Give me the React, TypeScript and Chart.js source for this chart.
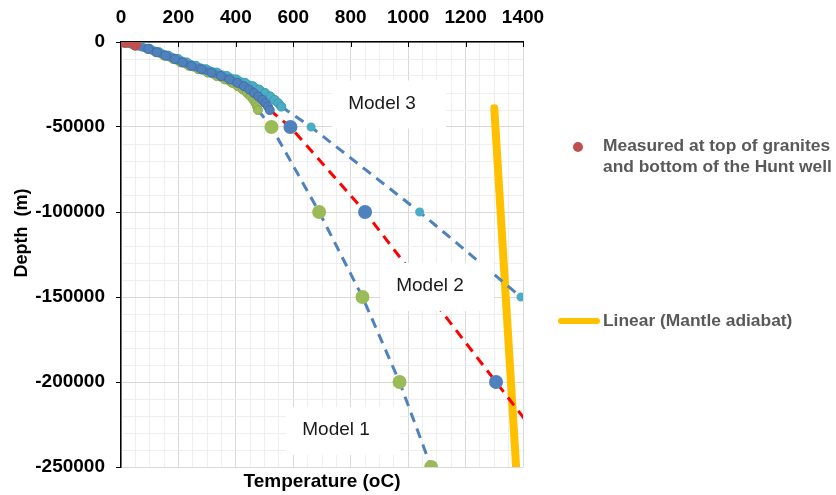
import React, { useEffect, useRef } from 'react';
import { Chart, registerables } from 'chart.js';

Chart.register(...registerables);

// ---------- data ----------
const xTickLabels = [0, 200, 400, 600, 800, 1000, 1200, 1400];
const yTickLabels = [0, -50000, -100000, -150000, -200000, -250000];

// shallow geotherm curves (depth m, temperature oC)
const curveDepths = [0, -2000, -4000, -6000, -8000, -10000, -12000, -14000, -16000, -18000, -20000,
  -22000, -24000, -26000, -28000, -30000, -32000, -34000, -36000, -38000, -40000];
const model1Temps = [0, 48, 92, 121, 150, 181, 207, 236, 269, 302, 333, 361, 386, 407, 424, 439, 451, 461, 469, 474, 477];
const model2Temps = [0, 50, 95, 125, 155, 188, 215, 245, 280, 315, 348, 378, 405, 428, 447, 463, 478, 492, 503, 512, 518];
const model3Depths = [0, -2000, -4000, -6000, -8000, -10000, -12000, -14000, -16000, -18000, -20000,
  -22000, -24000, -26000, -28000, -30000, -32000, -34000, -36000, -38000];
const model3Temps = [0, 54, 100, 133, 165, 199, 229, 261, 297, 334, 369, 402, 432, 459, 482, 502, 520, 535, 548, 558];

// deep extrapolations
const model1TrendT = [477, 524, 690, 841, 970, 1080];
const model1TrendZ = [-40000, -50000, -100000, -150000, -200000, -250000];
const model2TrendT = [518, 590, 850, 1078, 1306, 1500];
const model2TrendZ = [-40000, -50000, -100000, -150000, -200000, -242500];
const model3TrendT = [558, 662, 1040, 1393, 1750];
const model3TrendZ = [-38000, -50000, -100000, -150000, -200000];

// measured points
const measuredT = [14, 49];
const measuredZ = [0, -1500];

// mantle adiabat
const adiabatT = [1300, 1376];
const adiabatZ = [-39000, -250000];

// model labels (anchored in data units)
const modelLabelText = ['Model 1', 'Model 2', 'Model 3'];
const modelLabelT = [749, 1076, 909];
const modelLabelZ = [-227600, -142900, -35600];

const legendMeasured = ['Measured at top of granites', 'and bottom of the Hunt well'];
const legendAdiabat = 'Linear (Mantle adiabat)';
const xTitle = 'Temperature (oC)';
const yTitle = 'Depth  (m)';

// ---------- helpers ----------
const FONT = '"Liberation Sans", Arial, sans-serif';
const pts = (xs: number[], ys: number[]) => xs.map((x, i) => ({ x, y: ys[i] }));

const BLUE = '#4f81bd';
const CYAN = '#4bacc6';
const GREEN = '#9bbb59';
const RED = '#ff0000';
const MEAS = '#c0504d';
const ORANGE = '#ffc000';

const decorPlugin = {
  id: 'decor',
  beforeDatasetsDraw(chart: any) {
    const { ctx, chartArea, scales } = chart;
    ctx.save();
    ctx.strokeStyle = '#000';
    ctx.lineWidth = 1;
    xTickLabels.forEach((v) => {
      const px = Math.round(scales.x.getPixelForValue(v)) + 0.5;
      ctx.beginPath();
      ctx.moveTo(px, chartArea.top);
      ctx.lineTo(px, chartArea.top + 5);
      ctx.stroke();
    });
    ctx.restore();
  },
  afterDatasetsDraw(chart: any) {
    const { ctx, scales } = chart;
    ctx.save();
    ctx.font = `19px ${FONT}`;
    ctx.textBaseline = 'middle';
    ctx.textAlign = 'center';
    modelLabelText.forEach((t, i) => {
      const px = scales.x.getPixelForValue(modelLabelT[i]);
      const py = scales.y.getPixelForValue(modelLabelZ[i]);
      const w = ctx.measureText(t).width;
      ctx.fillStyle = '#ffffff';
      ctx.fillRect(px - w / 2 - 16, py - 22, w + 46, 48);
      ctx.fillStyle = '#1a1a1a';
      ctx.fillText(t, px, py + 1);
    });
    ctx.restore();
  },
  afterDraw(chart: any) {
    const { ctx, chartArea } = chart;
    ctx.save();
    // axis titles
    ctx.fillStyle = '#000';
    ctx.font = `bold 19px ${FONT}`;
    ctx.textAlign = 'center';
    ctx.textBaseline = 'middle';
    ctx.fillText(xTitle, (chartArea.left + chartArea.right) / 2, chartArea.bottom + 15);
    ctx.save();
    ctx.translate(22, 233);
    ctx.rotate(-Math.PI / 2);
    ctx.font = `bold 18px ${FONT}`;
    ctx.fillText(yTitle, 0, 0);
    ctx.restore();

    // legend
    ctx.fillStyle = MEAS;
    ctx.beginPath();
    ctx.arc(578, 147, 5, 0, Math.PI * 2);
    ctx.fill();
    ctx.fillStyle = '#595959';
    ctx.font = `bold 17.4px ${FONT}`;
    ctx.textAlign = 'left';
    ctx.fillText(legendMeasured[0], 603, 146);
    ctx.fillText(legendMeasured[1], 603, 167);

    ctx.strokeStyle = ORANGE;
    ctx.lineWidth = 6;
    ctx.lineCap = 'round';
    ctx.beginPath();
    ctx.moveTo(561, 321);
    ctx.lineTo(597, 321);
    ctx.stroke();
    ctx.fillText(legendAdiabat, 603, 321);
    ctx.restore();
  },
};

const tickFont = { family: FONT, size: 19, weight: 'bold' as const };

export default function App() {
  const ref = useRef<HTMLCanvasElement>(null);

  useEffect(() => {
    if (!ref.current) return;
    const curveStyle = (color: string, edge: string, order: number) => ({
      showLine: true,
      borderColor: color,
      borderWidth: 8,
      borderJoinStyle: 'round',
      borderCapStyle: 'round',
      backgroundColor: color,
      pointBorderColor: edge,
      pointBorderWidth: 1,
      pointRadius: 4.5,
      order,
    });
    const chart = new Chart(ref.current, {
      type: 'scatter',
      data: {
        datasets: [
          {
            label: 'Measured at top of granites and bottom of the Hunt well',
            data: pts(measuredT, measuredZ),
            showLine: false,
            backgroundColor: MEAS,
            borderColor: MEAS,
            pointRadius: 5.5,
            order: 0,
          },
          { label: 'Model 2', data: pts(model2Temps, curveDepths), ...curveStyle(BLUE, '#436fa6', 1) },
          { label: 'Model 3', data: pts(model3Temps, model3Depths), ...curveStyle(CYAN, '#3f9bb3', 2) },
          { label: 'Model 1', data: pts(model1Temps, curveDepths), ...curveStyle(GREEN, '#8aab4a', 3) },
          {
            label: 'Model 3 trend',
            data: pts(model3TrendT, model3TrendZ),
            showLine: true,
            borderColor: BLUE,
            borderWidth: 3,
            borderDash: [10, 7],
            backgroundColor: CYAN,
            pointBackgroundColor: CYAN,
            pointBorderColor: CYAN,
            pointRadius: [0, 3, 3, 3, 0],
            order: 4,
          },
          {
            label: 'Model 2 trend',
            data: pts(model2TrendT, model2TrendZ),
            showLine: true,
            borderColor: RED,
            borderWidth: 3,
            borderDash: [10, 7],
            backgroundColor: BLUE,
            pointBackgroundColor: BLUE,
            pointBorderColor: BLUE,
            pointRadius: [0, 5.5, 5.5, 5.5, 5.5, 0],
            order: 5,
          },
          {
            label: 'Model 1 trend',
            data: pts(model1TrendT, model1TrendZ),
            showLine: true,
            borderColor: BLUE,
            borderWidth: 3,
            borderDash: [10, 7],
            backgroundColor: GREEN,
            pointBackgroundColor: GREEN,
            pointBorderColor: GREEN,
            pointRadius: [0, 5.5, 5.5, 5.5, 5.5, 5.5],
            order: 6,
          },
          {
            label: 'Linear (Mantle adiabat)',
            data: pts(adiabatT, adiabatZ),
            showLine: true,
            borderColor: ORANGE,
            borderWidth: 8,
            borderCapStyle: 'round',
            pointRadius: 0,
            order: 7,
          },
        ],
      },
      options: {
        animation: false,
        responsive: false,
        devicePixelRatio: 1,
        events: [],
        layout: { padding: { left: 0, top: 0, right: 313, bottom: 28 } },
        plugins: {
          legend: { display: false },
          tooltip: { enabled: false },
          title: { display: false },
        },
        scales: {
          x: {
            type: 'linear',
            position: 'top',
            min: 0,
            max: 1400,
            afterFit: (s: any) => { s.height = 42; },
            ticks: {
              stepSize: 50,
              autoSkip: false,
              maxRotation: 0,
              padding: 13,
              color: '#000',
              font: tickFont,
              callback: (v: any) => (xTickLabels.includes(Number(v)) ? String(v) : ''),
            },
            grid: {
              drawTicks: false,
              color: (c: any) => (c.tick && xTickLabels.includes(c.tick.value) ? '#d9d9d9' : '#efefef'),
              lineWidth: 1,
            },
            border: { display: true, color: '#000', width: 1.5 },
          },
          y: {
            type: 'linear',
            position: 'left',
            min: -250000,
            max: 0,
            afterFit: (s: any) => { s.width = 121; },
            ticks: {
              stepSize: 10000,
              autoSkip: false,
              padding: 11,
              color: '#000',
              font: tickFont,
              callback: (v: any) => (yTickLabels.includes(Number(v)) ? String(v) : ''),
            },
            grid: {
              drawTicks: true,
              tickLength: 5,
              tickColor: (c: any) => (c.tick && yTickLabels.includes(c.tick.value) ? '#000' : 'rgba(0,0,0,0)'),
              color: (c: any) => (c.tick && yTickLabels.includes(c.tick.value) ? '#d9d9d9' : '#efefef'),
              lineWidth: 1,
            },
            border: { display: true, color: '#000', width: 1.5 },
          },
        },
      } as any,
      plugins: [decorPlugin],
    });
    return () => chart.destroy();
  }, []);

  return (
    <div style={{ position: 'absolute', left: 0, top: 0, width: 836, height: 495, background: '#ffffff' }}>
      <canvas ref={ref} width={836} height={495} style={{ display: 'block', width: 836, height: 495 }} />
    </div>
  );
}
